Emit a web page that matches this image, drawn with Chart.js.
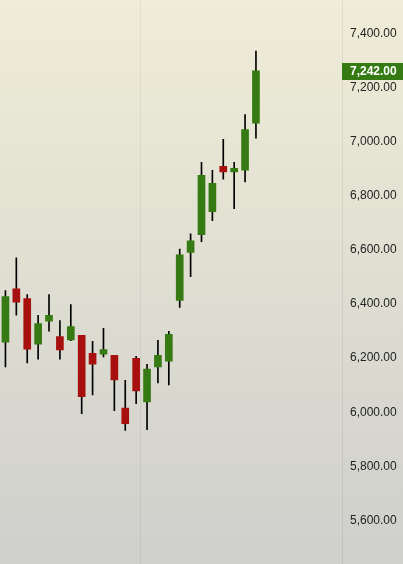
<!DOCTYPE html>
<html>
<head>
<meta charset="utf-8">
<script src="https://cdn.jsdelivr.net/npm/chart.js@4"></script>
<style>
  html, body { margin: 0; padding: 0; }
  #wrap { width: 403px; height: 564px; }
</style>
</head>
<body>
<div id="wrap"><canvas id="c"></canvas></div>
<script>
// candle data
const opens  = [6237, 6435, 6398, 6230, 6315, 6258, 6245, 6262, 6196, 6193, 6188, 5993,
                6177, 6016, 6145, 6167, 6392, 6569, 6635, 6720, 6888, 6867, 6874, 7048];
const closes = [6406, 6385, 6211, 6306, 6336, 6208, 6295, 6035, 6156, 6210, 6097, 5935,
                6057, 6137, 6188, 6266, 6560, 6612, 6855, 6825, 6867, 6881, 7024, 7242];
const highs  = [6428, 6549, 6413, 6336, 6413, 6317, 6376, 6262, 6240, 6288, 6188, 6096,
                6185, 6155, 6244, 6277, 6582, 6638, 6903, 6873, 6988, 6903, 7080, 7315];
const lows   = [6145, 6337, 6160, 6174, 6278, 6174, 6243, 5972, 6042, 6182, 5983, 5910,
                6009, 5913, 6086, 6079, 6366, 6480, 6609, 6687, 6841, 6731, 6830, 6992];
const tickValues = [5600, 5800, 6000, 6200, 6400, 6600, 6800, 7000, 7200, 7400];
const lastPrice = 7242;

const UP = "#357a12", DOWN = "#a81010";
const fmt = v => v.toLocaleString("en-US", { minimumFractionDigits: 2, maximumFractionDigits: 2 });

const bodies = opens.map((o, i) => ({ x: i, y: [o, closes[i]] }));
const wicks = highs.map((h, i) => ({ x: i, y: [lows[i], h] }));
const colors = opens.map((o, i) => closes[i] >= o ? UP : DOWN);

const bgPlugin = {
    id: "bg",
    beforeDraw(chart) {
        const { ctx, width, height } = chart;
        const g = ctx.createLinearGradient(0, 0, 0, height);
        g.addColorStop(0, "#efedd7");
        g.addColorStop(1, "#cfcfcc");
        ctx.save();
        ctx.fillStyle = g;
        ctx.fillRect(0, 0, width, height);
        ctx.strokeStyle = "rgba(0,0,0,0.06)";
        ctx.beginPath();
        ctx.moveTo(chart.chartArea.right + 0.5, 0);
        ctx.lineTo(chart.chartArea.right + 0.5, height);
        ctx.moveTo(140.5, 0);
        ctx.lineTo(140.5, height);
        ctx.stroke();
        ctx.restore();
    }
};

const priceTag = {
    id: "priceTag",
    afterDraw(chart) {
        const { ctx } = chart;
        const y = Math.round(chart.scales.y.getPixelForValue(lastPrice));
        const left = chart.chartArea.right;
        ctx.save();
        ctx.fillStyle = UP;
        ctx.fillRect(left, y - 8, chart.width - left, 17);
        ctx.fillStyle = "#ffffff";
        ctx.font = "bold 12px 'Liberation Sans'";
        ctx.textBaseline = "middle";
        ctx.fillText(fmt(lastPrice), left + 8, y + 1);
        ctx.restore();
    }
};

new Chart(document.getElementById("c"), {
    type: "bar",
    data: {
        datasets: [
            {
                data: wicks,
                backgroundColor: "#000000",
                barThickness: 1,
                grouped: false,
                order: 2
            },
            {
                data: bodies,
                backgroundColor: colors,
                barThickness: 7,
                grouped: false,
                order: 1
            }
        ]
    },
    options: {
        responsive: true,
        maintainAspectRatio: false,
        animation: false,
        plugins: { legend: { display: false }, tooltip: { enabled: false } },
        scales: {
            x: {
                type: "linear",
                min: -0.5,
                max: 30.9,
                offset: false,
                display: false
            },
            y: {
                position: "right",
                min: 5469,
                max: 7504,
                grid: { display: false },
                border: { display: false },
                afterFit(s) { s.width = 61; },
                afterBuildTicks(s) { s.ticks = tickValues.map(v => ({ value: v })); },
                ticks: {
                    align: "start",
                    padding: 0,
                    color: "#222222",
                    font: { family: "Liberation Sans", size: 12 },
                    callback: v => fmt(v)
                }
            }
        }
    },
    plugins: [bgPlugin, priceTag]
});
</script>
</body>
</html>
